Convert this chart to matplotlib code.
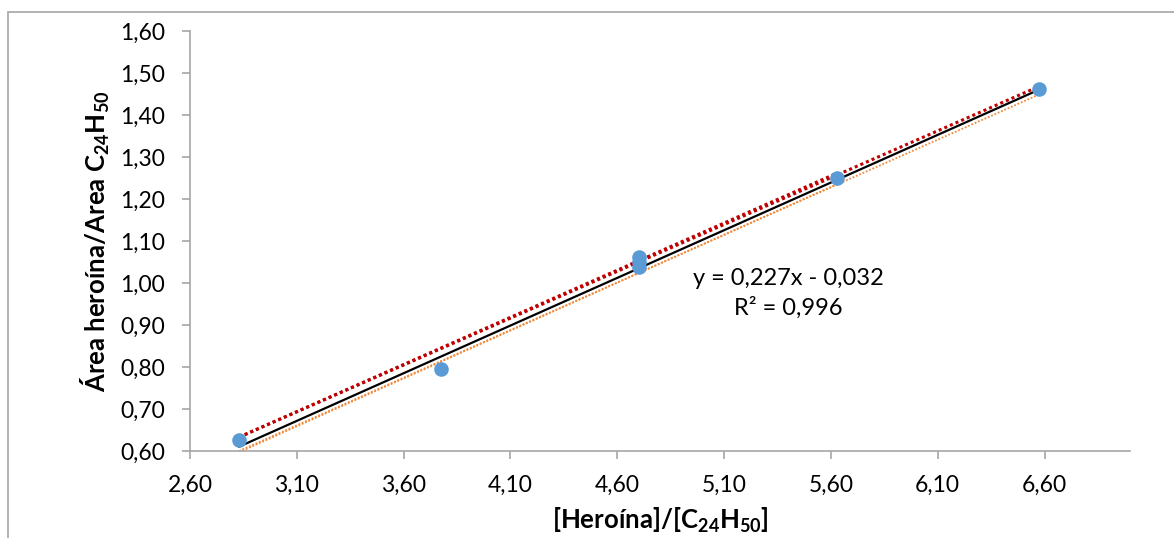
import matplotlib.pyplot as plt
from matplotlib.ticker import FuncFormatter
from matplotlib.patches import Rectangle

# datos de calibración
conc_ratio = [2.83, 3.773, 4.70, 4.70, 4.70, 5.63, 6.572]
area_ratio = [0.626, 0.795, 1.063, 1.050, 1.037, 1.250, 1.462]

# marcas de los ejes
x_ticks = [2.6, 3.1, 3.6, 4.1, 4.6, 5.1, 5.6, 6.1, 6.6]
y_ticks = [0.6, 0.7, 0.8, 0.9, 1.0, 1.1, 1.2, 1.3, 1.4, 1.5, 1.6]

# línea de tendencia principal (ecuación del gráfico)
slope = 0.227
intercept = -0.032
equation = "y = 0,227x - 0,032\nR² = 0,996"

# otras líneas de tendencia (pendiente, intercepto, x final)
red_trends = [(0.223, 0.002, 6.572), (0.2246, -0.0026, 5.63)]
orange_trends = [(0.2267, -0.0416, 6.572), (0.2280, -0.0480, 5.63)]

plt.rcParams.update({
    'font.size': 16,
    'font.family': ['Lato', 'DejaVu Sans'],
    'mathtext.fontset': 'custom',
    'mathtext.rm': 'Lato:bold',
    'mathtext.bf': 'Lato:bold',
})

fig = plt.figure(figsize=(11.74, 5.38), dpi=100)
ax = fig.add_axes([190 / 1174, 1 - 451 / 538, 940 / 1174, 420 / 538])

# marco del área del gráfico
fig.patches.append(Rectangle((8 / 1174, -0.1), 1.2, 1 - 12 / 538 + 0.1,
                             transform=fig.transFigure, fill=False,
                             edgecolor='#a6a6a6', linewidth=1.2))

x0 = min(conc_ratio)
for m, b, x1 in orange_trends:
    ax.plot([x0, x1], [m * x0 + b, m * x1 + b], color='#f08a3c',
            linestyle=(0, (1, 1)), linewidth=1.3, zorder=2)
for m, b, x1 in red_trends:
    ax.plot([x0, x1], [m * x0 + b, m * x1 + b], color='#c00000',
            linestyle=(0, (1, 1)), linewidth=2.2, zorder=2)

x1 = max(conc_ratio)
ax.plot([x0, x1], [slope * x0 + intercept, slope * x1 + intercept],
        color='black', linewidth=1.6, zorder=3)

ax.plot(conc_ratio, area_ratio, 'o', color='#5b9bd5', markersize=10.5,
        markeredgewidth=0, zorder=4)

ax.text(5.40, 1.035, equation, ha='center', va='top', fontsize=17,
        linespacing=1.4, multialignment='center')

ax.set_xlim(2.6, 7.0)
ax.set_ylim(0.6, 1.6)
ax.set_xticks(x_ticks)
ax.set_yticks(y_ticks)
fmt = FuncFormatter(lambda v, p: f"{v:.2f}".replace('.', ','))
ax.xaxis.set_major_formatter(fmt)
ax.yaxis.set_major_formatter(fmt)

for s in ['top', 'right']:
    ax.spines[s].set_visible(False)
for s in ['left', 'bottom']:
    ax.spines[s].set_color('#a6a6a6')
    ax.spines[s].set_linewidth(1.2)
ax.tick_params(direction='out', length=6, width=1.2, color='#a6a6a6',
               labelsize=16.5)
ax.tick_params(axis='x', pad=11)
ax.tick_params(axis='y', pad=12)

ax.set_xlabel(r"[Heroína]/[$\mathrm{C_{24}H_{50}}$]", fontsize=18.5,
              fontweight='bold', labelpad=7)
ax.set_ylabel(r"Área heroína/Area $\mathrm{C_{24}H_{50}}$", fontsize=18.5,
              fontweight='bold', labelpad=6)

fig.savefig('out.png', dpi=100)
